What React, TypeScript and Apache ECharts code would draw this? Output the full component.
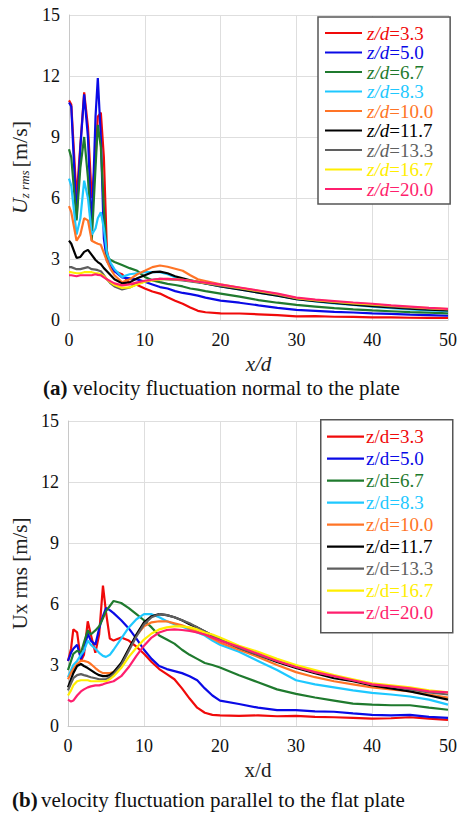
import React, { useEffect, useRef } from "react";
import * as echarts from "echarts";

const LABELS = ["3.3", "5.0", "6.7", "8.3", "10.0", "11.7", "13.3", "16.7", "20.0"];
const COLORS = ["#f00a0a", "#0a0ae6", "#1f7a2e", "#1ec8ff", "#ff7426", "#000000", "#5f5f5f", "#ffee00", "#ff1f6e"];

const X_TICKS = [0, 10, 20, 30, 40, 50];
const Y_TICKS = [0, 3, 6, 9, 12, 15];

// (a) U_z rms
const XA = [0, 0.3, 1, 1.5, 2, 2.5, 3, 3.5, 3.8, 4.2, 4.6, 5, 5.5, 6, 7, 8, 9, 10, 11, 12, 13, 14, 15, 16, 17, 18, 20, 22.5, 25, 27.5, 30, 32.5, 35, 37.5, 40, 42.5, 45, 47.5, 50];
const A_33 = [10.8, 10.6, 6.0, 8.6, 11.2, 9.5, 6.0, 8.0, 10.0, 10.2, 8.0, 3.4, 2.6, 2.4, 2.25, 1.8, 1.72, 1.55, 1.4, 1.3, 1.12, 0.95, 0.8, 0.62, 0.45, 0.38, 0.33, 0.32, 0.28, 0.24, 0.18, 0.19, 0.16, 0.15, 0.13, 0.13, 0.11, 0.1, 0.1];
const A_50 = [10.7, 10.5, 5.0, 8.5, 11.1, 9.0, 4.3, 10.0, 11.9, 9.0, 4.0, 2.9, 2.6, 2.4, 2.1, 2.05, 2.0, 1.88, 1.75, 1.62, 1.55, 1.42, 1.33, 1.27, 1.2, 1.1, 0.95, 0.85, 0.72, 0.6, 0.5, 0.45, 0.4, 0.37, 0.33, 0.3, 0.26, 0.24, 0.21];
const A_67 = [8.4, 8.0, 4.9, 7.5, 9.0, 7.0, 3.9, 7.5, 9.6, 8.5, 5.5, 3.1, 2.95, 2.85, 2.7, 2.55, 2.42, 2.12, 1.95, 1.86, 1.78, 1.72, 1.65, 1.55, 1.49, 1.42, 1.3, 1.15, 0.98, 0.85, 0.74, 0.66, 0.58, 0.52, 0.47, 0.43, 0.39, 0.36, 0.33];
const A_83 = [6.95, 6.6, 4.2, 5.0, 6.85, 6.0, 4.2, 4.5, 5.0, 5.3, 4.5, 3.3, 2.8, 2.5, 2.12, 2.25, 2.3, 2.35, 2.36, 2.35, 2.25, 2.1, 2.0, 1.93, 1.86, 1.8, 1.65, 1.5, 1.35, 1.2, 1.02, 0.92, 0.82, 0.74, 0.66, 0.58, 0.52, 0.47, 0.43];
const A_100 = [5.6, 5.3, 3.9, 4.2, 5.0, 4.9, 3.9, 3.8, 3.75, 3.7, 3.3, 2.9, 2.5, 2.2, 1.85, 2.0, 2.25, 2.42, 2.6, 2.68, 2.62, 2.52, 2.42, 2.2, 2.0, 1.92, 1.75, 1.58, 1.42, 1.25, 1.07, 0.97, 0.88, 0.8, 0.72, 0.65, 0.6, 0.55, 0.5];
const A_117 = [3.9, 3.75, 3.05, 3.1, 3.35, 3.45, 3.2, 2.95, 2.85, 2.75, 2.55, 2.4, 2.2, 2.0, 1.8, 1.85, 2.05, 2.2, 2.35, 2.38, 2.3, 2.15, 2.05, 1.95, 1.88, 1.8, 1.65, 1.5, 1.35, 1.2, 1.03, 0.93, 0.84, 0.76, 0.68, 0.62, 0.56, 0.51, 0.47];
const A_133 = [2.6, 2.6, 2.5, 2.5, 2.55, 2.6, 2.5, 2.48, 2.45, 2.4, 2.2, 2.0, 1.8, 1.65, 1.5, 1.6, 1.78, 1.9, 1.98, 2.02, 2.0, 1.98, 1.95, 1.9, 1.85, 1.8, 1.68, 1.55, 1.4, 1.25, 1.06, 0.96, 0.88, 0.8, 0.74, 0.67, 0.61, 0.56, 0.52];
const A_167 = [2.35, 2.35, 2.3, 2.3, 2.35, 2.35, 2.35, 2.3, 2.3, 2.25, 2.15, 2.0, 1.85, 1.72, 1.58, 1.6, 1.75, 1.88, 1.95, 2.0, 2.02, 2.0, 1.98, 1.93, 1.88, 1.83, 1.72, 1.58, 1.43, 1.28, 1.08, 0.98, 0.9, 0.83, 0.77, 0.7, 0.64, 0.58, 0.53];
const A_200 = [2.2, 2.2, 2.15, 2.2, 2.2, 2.2, 2.2, 2.25, 2.22, 2.2, 2.1, 2.0, 1.9, 1.8, 1.7, 1.75, 1.85, 1.93, 1.98, 2.02, 2.02, 2.0, 1.98, 1.93, 1.88, 1.84, 1.74, 1.6, 1.45, 1.3, 1.1, 1.0, 0.93, 0.86, 0.8, 0.72, 0.66, 0.6, 0.55];

// (b) U_x rms
const XB = [0, 0.4, 0.7, 1.2, 1.7, 2.1, 2.6, 3.0, 3.6, 4.1, 4.6, 5.0, 5.5, 6, 7, 8, 9, 10, 11, 12, 13, 14, 15, 16, 17, 18, 19, 20, 22.5, 25, 27.5, 30, 32.5, 35, 37.5, 40, 42.5, 45, 47.5, 50];
const B_33 = [3.2, 3.8, 4.75, 4.6, 3.2, 3.5, 5.15, 4.5, 3.6, 4.5, 6.9, 5.6, 4.3, 4.2, 4.35, 4.2, 3.9, 3.55, 3.15, 2.8, 2.55, 2.3, 1.85, 1.35, 0.9, 0.65, 0.55, 0.52, 0.5, 0.52, 0.48, 0.5, 0.45, 0.43, 0.4, 0.36, 0.38, 0.43, 0.36, 0.3];
const B_50 = [3.2, 3.6, 3.8, 4.0, 3.3, 3.7, 4.55, 4.2, 4.0, 4.8, 5.4, 5.8, 5.7, 5.55, 5.2, 4.8, 4.3, 3.75, 3.3, 2.95, 2.8, 2.7, 2.6, 2.45, 2.25, 1.85, 1.5, 1.25, 1.08, 0.9, 0.78, 0.78, 0.72, 0.7, 0.62, 0.55, 0.52, 0.55, 0.45, 0.4];
const B_67 = [2.75, 3.2, 3.55, 3.7, 3.6, 4.1, 4.7, 4.5, 4.7, 4.9, 5.3, 5.65, 5.9, 6.15, 6.05, 5.8, 5.5, 5.2, 4.85, 4.45, 4.25, 4.05, 3.75, 3.5, 3.3, 3.1, 3.0, 2.88, 2.5, 2.15, 1.8, 1.58, 1.4, 1.25, 1.1, 1.05, 1.02, 1.02, 0.9, 0.8];
const B_83 = [2.4, 2.75, 3.0, 3.2, 3.5, 3.7, 4.2, 4.0, 3.8, 3.6, 3.45, 3.4, 3.5, 3.75, 4.3, 4.85, 5.25, 5.5, 5.5, 5.35, 5.15, 5.0, 4.9, 4.75, 4.6, 4.45, 4.2, 4.0, 3.65, 3.2, 2.75, 2.25, 2.05, 1.9, 1.75, 1.63, 1.55, 1.45, 1.3, 1.05];
const B_100 = [2.3, 2.6, 2.8, 3.05, 3.2, 3.2, 3.15, 3.05, 2.85, 2.7, 2.6, 2.6, 2.6, 2.65, 3.0, 3.75, 4.45, 4.9, 5.1, 5.15, 5.15, 5.05, 4.95, 4.8, 4.65, 4.5, 4.3, 4.1, 3.75, 3.4, 3.0, 2.65, 2.4, 2.2, 2.05, 1.9, 1.8, 1.7, 1.55, 1.4];
const B_117 = [1.9, 2.3, 2.6, 2.95, 3.05, 2.95, 2.85, 2.75, 2.6, 2.5, 2.45, 2.45, 2.5, 2.65, 3.1, 3.8, 4.5, 5.1, 5.4, 5.5, 5.45, 5.35, 5.2, 5.0, 4.85, 4.65, 4.45, 4.25, 3.85, 3.5, 3.15, 2.85, 2.6, 2.35, 2.2, 2.0, 1.85, 1.7, 1.5, 1.3];
const B_133 = [1.75, 2.1, 2.35, 2.5, 2.55, 2.5, 2.45, 2.4, 2.35, 2.3, 2.3, 2.3, 2.4, 2.55, 3.0, 3.7, 4.4, 5.0, 5.35, 5.5, 5.45, 5.35, 5.2, 5.05, 4.85, 4.65, 4.45, 4.25, 3.85, 3.5, 3.2, 2.9, 2.65, 2.45, 2.25, 2.05, 1.95, 1.8, 1.65, 1.55];
const B_167 = [1.5, 1.75, 2.0, 2.2, 2.25, 2.25, 2.25, 2.2, 2.2, 2.2, 2.2, 2.2, 2.3, 2.45, 2.85, 3.4, 3.85, 4.25, 4.55, 4.75, 4.85, 4.9, 4.9, 4.85, 4.75, 4.6, 4.5, 4.35, 3.95, 3.65, 3.3, 3.0, 2.75, 2.5, 2.3, 2.1, 2.0, 1.9, 1.75, 1.65];
const B_200 = [1.3, 1.2, 1.25, 1.5, 1.7, 1.8, 1.9, 1.95, 2.0, 2.0, 2.05, 2.1, 2.15, 2.2, 2.45, 2.9, 3.45, 3.95, 4.35, 4.6, 4.72, 4.75, 4.72, 4.68, 4.6, 4.5, 4.35, 4.2, 3.9, 3.55, 3.2, 2.9, 2.65, 2.45, 2.25, 2.05, 1.95, 1.85, 1.7, 1.65];

const SERIES_A = [A_33, A_50, A_67, A_83, A_100, A_117, A_133, A_167, A_200];
const SERIES_B = [B_33, B_50, B_67, B_83, B_100, B_117, B_133, B_167, B_200];

const FONT = "Liberation Serif";

function lineSeries(prefix: string, xs: number[], list: number[][]) {
  return list.map((ys, i) => ({
    name: prefix + i,
    type: "line",
    data: xs.map((x, k) => [x, ys[k]]),
    symbol: "none",
    showSymbol: false,
    lineStyle: { color: COLORS[i], width: 2.2 },
    itemStyle: { color: COLORS[i] },
  }));
}

function xAxisOpt(italic: boolean) {
  return {
    type: "value",
    min: X_TICKS[0],
    max: X_TICKS[X_TICKS.length - 1],
    interval: 10,
    name: "x/d",
    nameLocation: "middle",
    nameGap: 33,
    nameTextStyle: { fontFamily: FONT, fontStyle: italic ? "italic" : "normal", fontSize: 21, color: "#222" },
    axisLine: { show: true, lineStyle: { color: "#c8c8c8", width: 1 } },
    axisTick: { show: false },
    axisLabel: { color: "#111", fontSize: 18, fontFamily: FONT, margin: 11 },
    splitLine: { show: true, lineStyle: { color: "#dedede", width: 1 } },
  };
}

function yAxisBase() {
  return {
    type: "value",
    min: Y_TICKS[0],
    max: Y_TICKS[Y_TICKS.length - 1],
    interval: 3,
    nameLocation: "middle",
    nameGap: 38,
    axisLine: { show: true, lineStyle: { color: "#c8c8c8", width: 1 } },
    axisTick: { show: false },
    axisLabel: { color: "#111", fontSize: 18, fontFamily: FONT, margin: 9 },
    splitLine: { show: true, lineStyle: { color: "#dedede", width: 1 } },
  };
}

export default function App() {
  const refA = useRef<HTMLDivElement>(null);
  const refB = useRef<HTMLDivElement>(null);
  useEffect(() => {
    document.body.style.margin = "0";
    if (!refA.current || !refB.current) return;

    // ---- chart (a): echarts legend component ----
    const ca = echarts.init(refA.current, undefined, { renderer: "svg" });
    const richA: Record<string, any> = {};
    COLORS.forEach((c, i) => {
      richA["i" + i] = { color: c, fontStyle: "italic", fontSize: 19, fontFamily: FONT };
      richA["n" + i] = { color: c, fontSize: 19, fontFamily: FONT };
    });
    ca.setOption({
      animation: false,
      grid: { left: 69, top: 15, width: 381, height: 305 },
      xAxis: xAxisOpt(true),
      yAxis: {
        ...yAxisBase(),
        name: "{u|U}{s|z rms} {n|[m/s]}",
        nameTextStyle: {
          fontFamily: FONT,
          color: "#222",
          rich: {
            u: { fontFamily: FONT, fontStyle: "italic", fontSize: 22, color: "#222", lineHeight: 24 },
            s: { fontFamily: FONT, fontStyle: "italic", fontSize: 13, color: "#222", verticalAlign: "bottom", lineHeight: 24, padding: [9, 0, 0, 0] },
            n: { fontFamily: FONT, fontSize: 22, color: "#222", lineHeight: 24 },
          },
        },
      },
      legend: {
        orient: "vertical",
        left: 318,
        top: 17,
        padding: [6.5, 17, 5.5, 7],
        itemWidth: 37,
        itemHeight: 14,
        itemGap: 0.5,
        backgroundColor: "#ffffff",
        borderColor: "#555555",
        borderWidth: 1.5,
        selectedMode: false,
        data: LABELS.map((_, i) => ({ name: "a" + i, icon: "path://M0,6 L37,6 L37,8 L0,8 Z" })),
        formatter: (name: string) => {
          const i = Number(name.slice(1));
          return `{i${i}|z/d}{n${i}|=${LABELS[i]}}`;
        },
        textStyle: { fontFamily: FONT, fontSize: 19, rich: richA },
      },
      series: lineSeries("a", XA, SERIES_A),
      graphic: [
        {
          type: "text",
          left: 43,
          top: 377,
          style: {
            text: "{b|(a)} velocity fluctuation normal to the plate",
            fontFamily: FONT,
            fontSize: 21,
            fill: "#111",
            rich: { b: { fontWeight: "bold", fontFamily: FONT, fontSize: 21, fill: "#111" } },
          },
        },
      ],
    });

    // ---- chart (b): legend drawn with graphic elements, plain texts ----
    const cb = echarts.init(refB.current, undefined, { renderer: "svg" });
    const LX = 320, LY = 12, LW = 132, LH = 213, STEP = 22, FIRST = 17.7;
    const legendEls: any[] = [
      { type: "rect", left: LX, top: LY, shape: { width: LW, height: LH }, style: { fill: "#fff", stroke: "#555", lineWidth: 1.5 }, z: 10 },
    ];
    LABELS.forEach((lab, i) => {
      const cy = LY + FIRST + STEP * i;
      legendEls.push({ type: "line", shape: { x1: LX + 7, y1: cy, x2: LX + 44, y2: cy }, style: { stroke: COLORS[i], lineWidth: 2.2 }, z: 11 });
      legendEls.push({
        type: "text",
        x: LX + 46,
        y: cy,
        style: { text: "z/d=" + lab, fontFamily: FONT, fontSize: 19, fill: COLORS[i], verticalAlign: "middle", align: "left" },
        z: 11,
      });
    });
    cb.setOption({
      animation: false,
      grid: { left: 68, top: 14, width: 380, height: 305 },
      xAxis: xAxisOpt(false),
      yAxis: {
        ...yAxisBase(),
        name: "Ux rms [m/s]",
        nameTextStyle: { fontFamily: FONT, fontSize: 21, color: "#222" },
      },
      series: lineSeries("b", XB, SERIES_B),
      graphic: [
        ...legendEls,
        { type: "text", left: 12, top: 382, style: { text: "(b)", fontFamily: FONT, fontSize: 21, fontWeight: "bold", fill: "#111" } },
        { type: "text", left: 41, top: 382, style: { text: "velocity fluctuation parallel to the flat plate", fontFamily: FONT, fontSize: 21, fill: "#111" } },
      ],
    });
    return () => {
      ca.dispose();
      cb.dispose();
    };
  }, []);
  return (
    <div>
      <div ref={refA} style={{ width: 460, height: 407 }} />
      <div ref={refB} style={{ width: 460, height: 407 }} />
    </div>
  );
}
